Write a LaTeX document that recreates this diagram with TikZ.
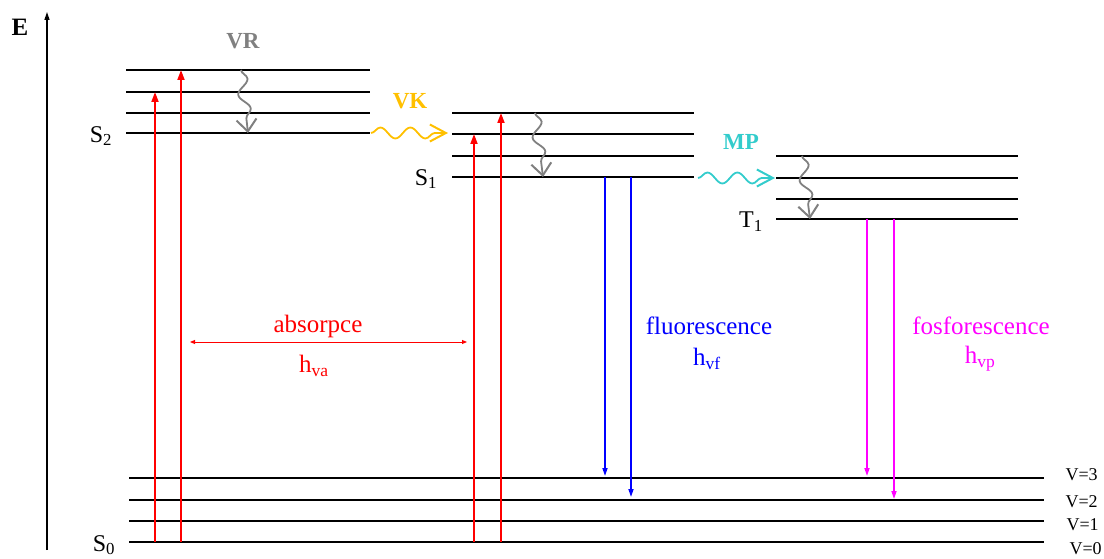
\documentclass[tikz,border=0pt]{standalone}
\usepackage{fontspec}
\setmainfont{Liberation Serif}
\usetikzlibrary{arrows.meta,decorations.pathmorphing}
\definecolor{vrgray}{HTML}{808080}
\definecolor{vkgold}{HTML}{FFC000}
\definecolor{mpcyan}{HTML}{33CCCC}
\definecolor{fluo}{HTML}{0000FF}
\definecolor{fosfo}{HTML}{FF00FF}

\begin{document}
\begin{tikzpicture}[x=1pt,y=-1pt,font=\fontsize{25}{28}\selectfont,
  lvl/.style={line width=2pt,black},
  absarrow/.style={-{Triangle[length=10pt,width=7pt]},line width=1.8pt,red},
  emarrow/.style={-{Triangle[length=8pt,width=5pt]},line width=1.6pt},
  wave/.style={line width=1.8pt,
    decorate,decoration={snake,amplitude=5.5pt,segment length=30pt,post length=10pt}},
  vrwave/.style={wave,vrgray,-{Straight Barb[length=12pt,width=20pt,line width=2pt]}},
  hwave/.style={wave,-{Straight Barb[length=16pt,width=17pt,line width=2pt]}},
  proc/.style={font=\fontsize{23}{25}\selectfont\bfseries},
  slab/.style={font=\fontsize{24}{26}\selectfont},
  vlab/.style={font=\fontsize{18}{20}\selectfont,anchor=west}]
  \useasboundingbox (0,0) rectangle (1104,559);

  % energy axis
  \coordinate (axlo) at (47,550);
  \coordinate (axhi) at (47,12);
  \draw[-{Triangle[length=8pt,width=5pt]},line width=1.4pt] (axlo) -- (axhi);
  \node[font=\fontsize{25}{28}\selectfont\bfseries] (elab) at (20,27) {E};

  % ===== levels =====
  \foreach \y [count=\i] in {70,92,113,133} {
    \coordinate (s2l\i) at (126,\y); \coordinate (s2r\i) at (370,\y);
    \draw[lvl] (s2l\i) -- (s2r\i);
  }
  \foreach \y [count=\i] in {113,134,156,177} {
    \coordinate (s1l\i) at (452,\y); \coordinate (s1r\i) at (694,\y);
    \draw[lvl] (s1l\i) -- (s1r\i);
  }
  \foreach \y [count=\i] in {156,178,199,219} {
    \coordinate (t1l\i) at (776,\y); \coordinate (t1r\i) at (1018,\y);
    \draw[lvl] (t1l\i) -- (t1r\i);
  }
  \foreach \y/\v/\ly/\lx [count=\i] in {478/3/475/1062,500/2/502/1062,521/1/525/1063,542/0/549/1066} {
    \coordinate (s0l\i) at (129,\y); \coordinate (s0r\i) at (1044,\y);
    \draw[lvl] (s0l\i) -- (s0r\i);
    \node[vlab] (v\v) at (\lx,\ly) {V=\v};
  }
  \node[slab] (s2lab) at (101,136) {S\textsubscript{2}};
  \node[slab] (s1lab) at (426,179) {S\textsubscript{1}};
  \node[slab] (t1lab) at (751,222) {T\textsubscript{1}};
  \node[slab] (s0lab) at (104,545) {S\textsubscript{0}};

  % ===== absorption =====
  \coordinate (a1) at (155,542); \coordinate (a2) at (181,542);
  \coordinate (a3) at (474,542); \coordinate (a4) at (501,542);
  \draw[absarrow] (a1) -- (a1 |- s2l2);
  \draw[absarrow] (a2) -- (a2 |- s2l1);
  \draw[absarrow] (a3) -- (a3 |- s1l2);
  \draw[absarrow] (a4) -- (a4 |- s1l1);
  \coordinate (abl) at (190,342); \coordinate (abr) at (467,342);
  \draw[{Triangle[length=5pt,width=4pt]}-{Triangle[length=5pt,width=4pt]},line width=1pt,red] (abl) -- (abr);
  \node[text=red] (ablab) at (318,326) {absorpce};
  \node[text=red] (abh) at (314,366) {h\textsubscript{va}};

  % ===== relaxation =====
  \coordinate (vr1a) at (241,70); \coordinate (vr1b) at (248,133);
  \draw[vrwave] (vr1a) -- (vr1b);
  \node[proc,text=vrgray] (vrlab) at (243,41) {VR};
  \coordinate (vr2a) at (535,113); \coordinate (vr2b) at (543,177);
  \draw[vrwave] (vr2a) -- (vr2b);
  \coordinate (vr3a) at (802,156); \coordinate (vr3b) at (810,219);
  \draw[vrwave] (vr3a) -- (vr3b);

  \coordinate (vka) at (371,133); \coordinate (vkb) at (448,133);
  \draw[hwave,vkgold] (vka) -- (vkb);
  \node[proc,text=vkgold] (vklab) at (410,101) {VK};
  \coordinate (mpa) at (698,178); \coordinate (mpb) at (775,178);
  \draw[hwave,mpcyan] (mpa) -- (mpb);
  \node[proc,text=mpcyan] (mplab) at (741,142) {MP};

  % ===== emission =====
  \coordinate (f1) at (605,177); \coordinate (f2) at (631,177);
  \coordinate (f1e) at (605,476); \coordinate (f2e) at (631,497);
  \draw[emarrow,fluo] (f1) -- (f1e);
  \draw[emarrow,fluo] (f2) -- (f2e);
  \node[text=fluo] (fllab) at (709,326) {fluorescence};
  \node[text=fluo] (flh) at (707,359) {h\textsubscript{vf}};

  \coordinate (p1) at (867,219); \coordinate (p2) at (894,219);
  \coordinate (p1e) at (867,476); \coordinate (p2e) at (894,499);
  \draw[emarrow,fosfo] (p1) -- (p1e);
  \draw[emarrow,fosfo] (p2) -- (p2e);
  \node[text=fosfo] (fslab) at (981,326) {fosforescence};
  \node[text=fosfo] (fsh) at (980,359) {h\textsubscript{vp}};
\end{tikzpicture}
\end{document}
